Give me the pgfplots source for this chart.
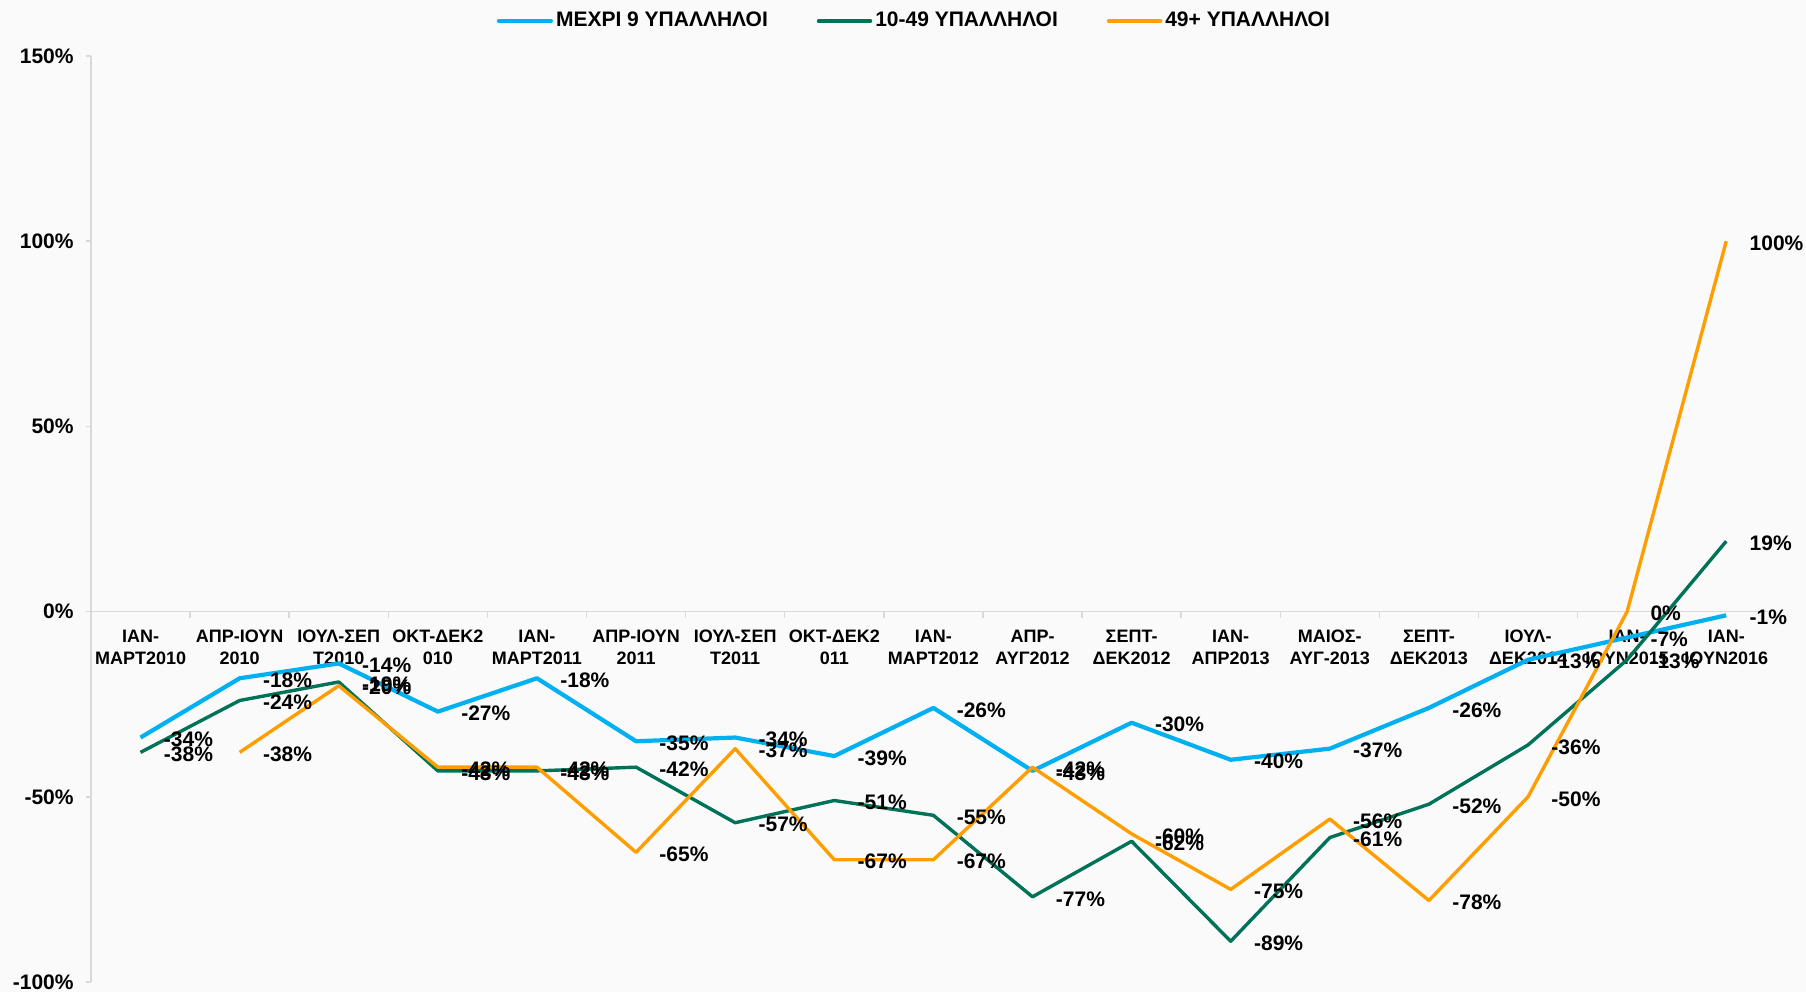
\documentclass[border=0pt]{standalone}
\usepackage{fontspec}
\setmainfont{Liberation Sans}
\usepackage{pgfplots}
\pgfplotsset{compat=1.18}
\definecolor{cblue}{HTML}{00B0F0}
\definecolor{cgreen}{HTML}{007257}
\definecolor{corange}{HTML}{FF9E00}
\definecolor{bg}{HTML}{FAFAFA}
\definecolor{axgray}{HTML}{D9D9D9}
\newcommand{\lblfont}{\bfseries\fontsize{10.5}{12}\selectfont}
\begin{document}
\begin{tikzpicture}[font=\bfseries]
\fill[bg] (0,0) rectangle (903pt,496pt);
\path[use as bounding box] (0,0) rectangle (903pt,496pt);
\begin{axis}[
  at={(45.5pt,5pt)}, anchor=south west,
  scale only axis, width=842.4pt, height=463pt,
  xmin=-0.5, xmax=16.5, ymin=-100, ymax=150,
  axis x line=middle, axis y line=left,
  axis line style={axgray, line width=0.75pt, -},
  hide obscured x ticks=false, hide obscured y ticks=false,
  xtick={0,...,16},
  xticklabels={{ΙΑΝ-\\ΜΑΡΤ2010},{ΑΠΡ-ΙΟΥΝ\\2010},{ΙΟΥΛ-ΣΕΠ\\Τ2010},{ΟΚΤ-ΔΕΚ2\\010},{ΙΑΝ-\\ΜΑΡΤ2011},{ΑΠΡ-ΙΟΥΝ\\2011},{ΙΟΥΛ-ΣΕΠ\\Τ2011},{ΟΚΤ-ΔΕΚ2\\011},{ΙΑΝ-\\ΜΑΡΤ2012},{ΑΠΡ-\\ΑΥΓ2012},{ΣΕΠΤ-\\ΔΕΚ2012},{ΙΑΝ-\\ΑΠΡ2013},{ΜΑΙΟΣ-\\ΑΥΓ-2013},{ΣΕΠΤ-\\ΔΕΚ2013},{ΙΟΥΛ-\\ΔΕΚ2014},{ΙΑΝ-\\ΙΟΥΝ2015},{ΙΑΝ-\\ΙΟΥΝ2016}},
  minor xtick={-0.5,0.5,...,16.5},
  major x tick style={draw=none},
  minor x tick style={axgray, line width=0.75pt},
  minor tick length=3pt,
  ytick={-100,-50,0,50,100,150},
  yticklabels={-100\%,-50\%,0\%,50\%,100\%,150\%},
  y tick style={axgray, line width=0.75pt},
  major tick length=2.5pt,
  tick align=outside,
  xticklabel style={font=\bfseries\fontsize{9}{11}\selectfont, align=center, anchor=north, inner sep=0pt, yshift=-6.5pt},
  yticklabel style={font=\lblfont, anchor=east, inner sep=0pt, xshift=-6pt},
  legend style={at={(0.489,1.0378)}, anchor=center, draw=none, fill=none, legend columns=3, font=\lblfont, /tikz/every even column/.append style={column sep=23pt}, nodes={inner sep=1.5pt}},
  legend image code/.code={\draw[#1, line cap=round] (0pt,0pt) -- (26pt,0pt);},
  every axis plot/.append style={line join=round},
  label node/.style={draw=none, forget plot, point meta=y,
    nodes near coords={\pgfmathprintnumber[assume math mode=true]{\pgfplotspointmeta}\%},
    every node near coord/.append style={anchor=west, xshift=11.5pt, yshift=-1pt, inner sep=0pt, font=\lblfont, text=black}},
]
\addplot[cblue, line width=2.1pt] coordinates {(0,-34) (1,-18) (2,-14) (3,-27) (4,-18) (5,-35) (6,-34) (7,-39) (8,-26) (9,-43) (10,-30) (11,-40) (12,-37) (13,-26) (14,-13) (15,-7) (16,-1)};
\addlegendentry{ΜΕΧΡΙ 9 ΥΠΑΛΛΗΛΟΙ}
\addplot[cgreen, line width=1.7pt] coordinates {(0,-38) (1,-24) (2,-19) (3,-43) (4,-43) (5,-42) (6,-57) (7,-51) (8,-55) (9,-77) (10,-62) (11,-89) (12,-61) (13,-52) (14,-36) (15,-13) (16,19)};
\addlegendentry{10-49 ΥΠΑΛΛΗΛΟΙ}
\addplot[corange, line width=1.7pt] coordinates {(1,-38) (2,-20) (3,-42) (4,-42) (5,-65) (6,-37) (7,-67) (8,-67) (9,-42) (10,-60) (11,-75) (12,-56) (13,-78) (14,-50) (15,0) (16,100)};
\addlegendentry{49+ ΥΠΑΛΛΗΛΟΙ}
\addplot[label node] coordinates {(0,-34) (1,-18) (2,-14) (3,-27) (4,-18) (5,-35) (6,-34) (7,-39) (8,-26) (9,-43) (10,-30) (11,-40) (12,-37) (13,-26) (14,-13) (15,-7) (16,-1)};
\addplot[label node] coordinates {(0,-38) (1,-24) (2,-19) (3,-43) (4,-43) (5,-42) (6,-57) (7,-51) (8,-55) (9,-77) (10,-62) (11,-89) (12,-61) (13,-52) (14,-36) (15,-13) (16,19)};
\addplot[label node] coordinates {(1,-38) (2,-20) (3,-42) (4,-42) (5,-65) (6,-37) (7,-67) (8,-67) (9,-42) (10,-60) (11,-75) (12,-56) (13,-78) (14,-50) (15,0) (16,100)};
\end{axis}
\end{tikzpicture}
\end{document}
